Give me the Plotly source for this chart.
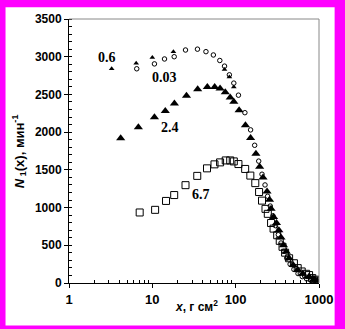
import math
import plotly.graph_objects as go

# series "0.6" (small filled triangles)
x06 = [3.25, 6.4, 10.0, 17.9, 73.5, 84, 95]
y06 = [2840, 2914, 2990, 3067, 2830, 2730, 2600]

# series "0.03" (small open circles)
x003 = [6.5, 10.6, 14.0, 18.3, 25, 34.8, 44, 54, 64.5, 73.5, 84, 95, 108, 129, 151, 169, 189, 207, 225, 242, 260, 280, 300, 325, 350, 380, 410, 450, 500, 560, 630, 710, 800, 900]
y003 = [2840, 2905, 2970, 3000, 3089, 3100, 3067, 3023, 2950, 2875, 2760, 2650, 2490, 2258, 2030, 1826, 1616, 1442, 1300, 1150, 1020, 890, 760, 640, 530, 420, 330, 250, 180, 125, 85, 55, 35, 20]

# series "2.4" (large filled triangles)
x24 = [4.17, 6.8, 10.6, 14.3, 18.4, 25.7, 35, 45.7, 56, 65, 75, 86, 95, 110, 131, 151, 175, 194, 213, 238, 255, 266, 285, 309, 330, 350, 375, 405, 438, 490, 555, 640, 760, 870, 955]
y24 = [1918, 2066, 2197, 2280, 2381, 2481, 2569, 2599, 2599, 2578, 2530, 2460, 2403, 2289, 2093, 1922, 1713, 1542, 1398, 1214, 1105, 983, 874, 795, 699, 603, 502, 415, 328, 240, 175, 122, 87, 52, 30]

# series "6.7" (open squares)
x67 = [7.05, 10.8, 14.6, 18.3, 25, 34.6, 45.3, 55.7, 65, 76, 86, 95, 108, 130, 150, 172, 191, 207, 228, 243, 266, 285, 315, 338, 365, 392, 438, 500, 555, 620, 700, 760, 830, 910, 975]
y67 = [935, 970, 1088, 1166, 1297, 1420, 1520, 1573, 1599, 1625, 1625, 1612, 1577, 1512, 1424, 1324, 1206, 1092, 983, 917, 795, 721, 633, 559, 480, 402, 328, 262, 197, 153, 122, 105, 65, 44, 30]

labels = ["0.6", "0.03", "2.4", "6.7"]
label_x = [2.86, 14.1, 16.1, 38.2]
label_y = [2992, 2730, 2062, 1170]

yticks = [0, 500, 1000, 1500, 2000, 2500, 3000, 3500]
xticks = [1, 10, 100, 1000]
xminor = [m * d for d in (1, 10, 100) for m in range(2, 10)]

fig = go.Figure()
fig.add_trace(go.Scatter(x=x003, y=y003, mode="markers",
                         marker=dict(symbol="circle-open", size=4.5, color="black", line=dict(width=1))))
fig.add_trace(go.Scatter(x=x06, y=y06, mode="markers",
                         marker=dict(symbol="triangle-up", size=5, color="black")))
fig.add_trace(go.Scatter(x=x24, y=y24, mode="markers",
                         marker=dict(symbol="triangle-up", size=8, color="black")))
fig.add_trace(go.Scatter(x=x67, y=y67, mode="markers",
                         marker=dict(symbol="square-open", size=7, color="black", line=dict(width=1))))

for t, lx, ly in zip(labels, label_x, label_y):
    fig.add_annotation(x=math.log10(lx), y=ly, xref="x", yref="y", text="<b>" + t + "</b>", showarrow=False,
                       font=dict(family="Liberation Serif", size=14, color="black"),
                       xanchor="center", yanchor="middle")

# x-axis title placed near the tick-label row, as in the reference
fig.add_annotation(x=0.51, y=-23/267, xref="paper", yref="paper",
                   text="<b><i>x</i>, г см<sup>2</sup></b>", showarrow=False,
                   font=dict(family="Liberation Sans", size=12, color="black"),
                   xanchor="center", yanchor="middle")
# y-axis title
fig.add_annotation(x=-51/256, y=0.50, xref="paper", yref="paper",
                   text="<b><i>N</i><sub> 1</sub>(x), мин<sup>-1</sup></b>", showarrow=False,
                   textangle=-90,
                   font=dict(family="Liberation Sans", size=13, color="black"),
                   xanchor="center", yanchor="middle")

# white page inside magenta border
fig.add_shape(type="rect", xref="paper", yref="paper",
              x0=-65/256, x1=1 + 16/256, y0=-43/267, y1=1 + 12/267,
              fillcolor="white", line=dict(width=0), layer="below")
# gray frame top/right
fig.add_shape(type="line", xref="paper", yref="paper", x0=0, x1=1, y0=1, y1=1,
              line=dict(color="#888888", width=1))
fig.add_shape(type="line", xref="paper", yref="paper", x0=1, x1=1, y0=0, y1=1,
              line=dict(color="#888888", width=1))

fig.update_layout(
    width=345, height=329,
    margin=dict(l=69, r=20, t=16, b=46),
    paper_bgcolor="#ff00ff", plot_bgcolor="white",
    showlegend=False,
    font=dict(family="Liberation Sans", size=11, color="black"),
)
fig.update_xaxes(type="log", range=[0, 3], tickmode="array", tickvals=xticks, ticktext=[str(v) for v in xticks],
                 showgrid=False, zeroline=False, showline=True, linecolor="black", linewidth=1,
                 ticks="outside", ticklen=4, tickcolor="black",
                 tickfont=dict(family="Liberation Sans", size=13, color="black", weight="bold"),
                 minor=dict(tickmode="array", tickvals=xminor, ticks="inside", ticklen=3,
                            tickcolor="black", showgrid=False))
fig.update_yaxes(range=[0, 3500], tickvals=yticks, showgrid=False, zeroline=False,
                 showline=True, linecolor="black", linewidth=1,
                 ticks="outside", ticklen=4, tickcolor="black",
                 tickfont=dict(family="Liberation Sans", size=12, color="black", weight="bold"),
                 minor=dict(dtick=100, ticks="inside", ticklen=3, tickcolor="black", showgrid=False))

fig.write_html("out.html")
